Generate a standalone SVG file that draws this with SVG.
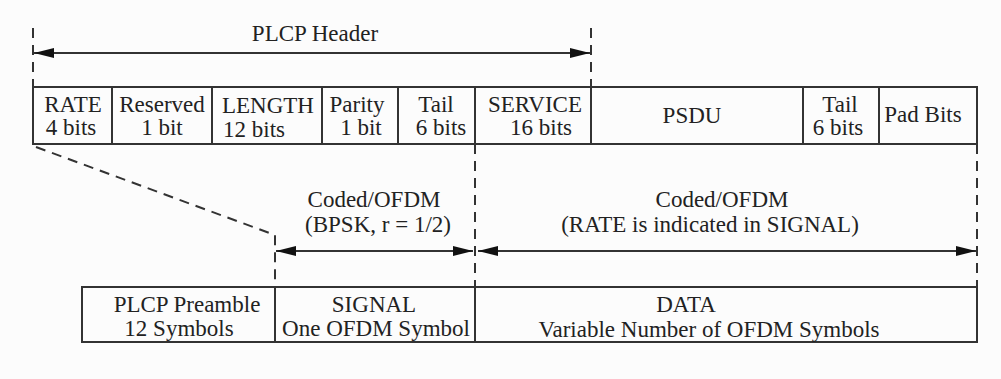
<svg xmlns="http://www.w3.org/2000/svg" width="1001" height="379" viewBox="0 0 1001 379">
<style>
text{font-family:"Liberation Serif","Times New Roman",serif;font-size:23px;fill:#222;text-anchor:middle}
.box{fill:none;stroke:#333;stroke-width:2}
.div{stroke:#333;stroke-width:2}
.dash{stroke:#333;stroke-width:2;stroke-dasharray:10 7;fill:none}
.arr{stroke:#333;stroke-width:2;fill:none;marker-start:url(#ah);marker-end:url(#ah)}
</style>
<defs>
<marker id="ah" viewBox="0 0 20 10" refX="20" refY="5" markerWidth="20" markerHeight="10" markerUnits="userSpaceOnUse" orient="auto-start-reverse">
<path d="M0,0 L20,5 L0,10 Z" fill="#111"/>
</marker>
</defs>
<rect width="1001" height="379" fill="#fcfcfc"/>
<g font-family="Liberation Serif, Times New Roman, serif">
<g id="header-label"><text x="315" y="41">PLCP Header</text></g>
<g id="top-row">
<rect class="box" x="33" y="87" width="944" height="57"/>
<g id="rate"><text x="73" y="112">RATE</text><text x="71" y="135">4 bits</text></g>
<line class="div" x1="112" y1="87" x2="112" y2="144"/>
<g id="reserved"><text x="162" y="112">Reserved</text><text x="162" y="135">1 bit</text></g>
<line class="div" x1="212" y1="87" x2="212" y2="144"/>
<g id="length"><text x="268" y="113">LENGTH</text><text x="254" y="137">12 bits</text></g>
<line class="div" x1="322" y1="87" x2="322" y2="144"/>
<g id="parity"><text x="357" y="112">Parity</text><text x="361" y="135">1 bit</text></g>
<line class="div" x1="398" y1="87" x2="398" y2="144"/>
<g id="tail1"><text x="436" y="112">Tail</text><text x="441" y="135">6 bits</text></g>
<line class="div" x1="475" y1="87" x2="475" y2="144"/>
<g id="service"><text x="535" y="112">SERVICE</text><text x="541" y="135">16 bits</text></g>
<line class="div" x1="591" y1="87" x2="591" y2="144"/>
<g id="psdu"><text x="692" y="123">PSDU</text></g>
<line class="div" x1="803" y1="87" x2="803" y2="144"/>
<g id="tail2"><text x="840" y="112">Tail</text><text x="838" y="135">6 bits</text></g>
<line class="div" x1="879" y1="87" x2="879" y2="144"/>
<g id="pad"><text x="923" y="122">Pad Bits</text></g>
</g>
<g id="labels">
<text x="374" y="207">Coded/OFDM</text>
<text x="378" y="232">(BPSK, r = 1/2)</text>
<text x="722" y="207">Coded/OFDM</text>
<text x="710" y="232">(RATE is indicated in SIGNAL)</text>
</g>
<g id="bottom-row">
<rect class="box" x="82" y="287" width="895" height="55"/>
<g id="preamble"><text x="187" y="312">PLCP Preamble</text><text x="179" y="336">12 Symbols</text></g>
<line class="div" x1="275" y1="287" x2="275" y2="342"/>
<g id="signal"><text x="374" y="312">SIGNAL</text><text x="376" y="336">One OFDM Symbol</text></g>
<line class="div" x1="475" y1="287" x2="475" y2="342"/>
<g id="data"><text x="686" y="312">DATA</text><text x="709" y="337">Variable Number of OFDM Symbols</text></g>
</g>
</g>
<g id="connectors">
<line class="dash" x1="33" y1="28" x2="33" y2="87"/>
<line class="dash" x1="591" y1="28" x2="591" y2="87"/>
<line class="arr" x1="34" y1="53" x2="590" y2="53"/>
<polyline class="dash" points="36,147 275,235 275,287"/>
<line class="dash" x1="475" y1="144" x2="475" y2="287"/>
<line class="dash" x1="977" y1="144" x2="977" y2="287"/>
<line class="arr" x1="276" y1="251" x2="473" y2="251"/>
<line class="arr" x1="478" y1="251" x2="976" y2="251"/>
</g>
</svg>
